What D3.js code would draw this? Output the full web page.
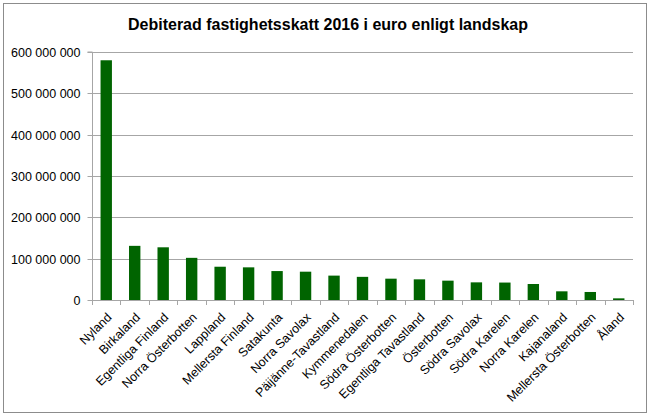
<!DOCTYPE html>
<html><head><meta charset="utf-8">
<script src="https://cdn.jsdelivr.net/npm/d3@7/dist/d3.min.js"></script>
<style>
body{margin:0;background:#fff;}
svg{display:block;font-family:"Liberation Sans",Arial,sans-serif;}
</style></head>
<body><svg id="chart" width="651" height="418"></svg>
<script>
const categories = ["Nyland","Birkaland","Egentliga Finland","Norra Österbotten","Lappland","Mellersta Finland","Satakunta","Norra Savolax","Päijänne-Tavastland","Kymmenedalen","Södra Österbotten","Egentliga Tavastland","Österbotten","Södra Savolax","Södra Karelen","Norra Karelen","Kajanaland","Mellersta Österbotten","Åland"];
const values = [580000000,131000000,127500000,102000000,80500000,79000000,70000000,68500000,59000000,56000000,51600000,50000000,46800000,42700000,42200000,38700000,21000000,19400000,4000000];
const yTicks = [0,100000000,200000000,300000000,400000000,500000000,600000000];
const title = "Debiterad fastighetsskatt 2016 i euro enligt landskap";

const svg = d3.select("#chart");
const m = {left:92, right:633, top:52, bottom:300};

svg.append("rect").attr("x",3.5).attr("y",3.5).attr("width",643).attr("height",409)
  .attr("fill","#fff").attr("stroke","#8c8c8c").attr("stroke-width",1);

svg.append("text").attr("x",328).attr("y",30).attr("text-anchor","middle")
  .attr("font-size",17).attr("font-weight","bold").attr("fill","#000")
  .attr("textLength",400).attr("lengthAdjust","spacingAndGlyphs").text(title);

const x = d3.scaleBand().domain(categories).range([m.left,m.right]).paddingInner(0.6).paddingOuter(0.3);
const y = d3.scaleLinear().domain([0,600000000]).range([m.bottom,m.top]);

const fmt = v => d3.format(",")(v).replace(/,/g," ");

svg.append("g").selectAll("line").data(yTicks.filter(d=>d>0)).join("line")
  .attr("x1",m.left).attr("x2",m.right).attr("y1",d=>Math.round(y(d))+0.5).attr("y2",d=>Math.round(y(d))+0.5)
  .attr("stroke","#a6a6a6").attr("stroke-width",1);

const ya = svg.append("g").attr("transform",`translate(${m.left+0.5},0)`)
  .call(d3.axisLeft(y).tickValues(yTicks).tickFormat(fmt).tickSize(5).tickPadding(7));
ya.select(".domain").attr("stroke","#a6a6a6").attr("d",`M-5,${m.top}H0V${m.bottom}`);
ya.selectAll(".tick line").attr("stroke","#a6a6a6");
ya.selectAll(".tick text").attr("font-size",12.5).attr("fill","#000").attr("font-family","Liberation Sans, Arial, sans-serif");
ya.selectAll(".tick").attr("transform",d=>`translate(0,${Math.round(y(d))+0.5})`);

svg.append("g").selectAll("rect").data(values).join("rect")
  .attr("x",(d,i)=>x(categories[i])).attr("width",x.bandwidth())
  .attr("y",d=>y(d)).attr("height",d=>y(0)-y(d)).attr("fill","#006400");

const boundaries = d3.range(categories.length+1).map(i=>m.left + i*(m.right-m.left)/categories.length);
const xa = svg.append("g");
xa.append("line").attr("x1",m.left).attr("x2",m.right).attr("y1",m.bottom+0.5).attr("y2",m.bottom+0.5).attr("stroke","#a6a6a6");
xa.selectAll("line.t").data(boundaries).join("line").attr("class","t")
  .attr("x1",d=>Math.round(d)+0.5).attr("x2",d=>Math.round(d)+0.5).attr("y1",m.bottom).attr("y2",m.bottom+5).attr("stroke","#a6a6a6");
xa.selectAll("text").data(categories).join("text")
  .attr("transform",d=>`translate(${x(d)+x.bandwidth()/2+3},${m.bottom+15}) rotate(-45)`)
  .attr("text-anchor","end").attr("dy","0.35em").attr("font-size",12.5).attr("fill","#000").text(d=>d);
</script></body></html>
